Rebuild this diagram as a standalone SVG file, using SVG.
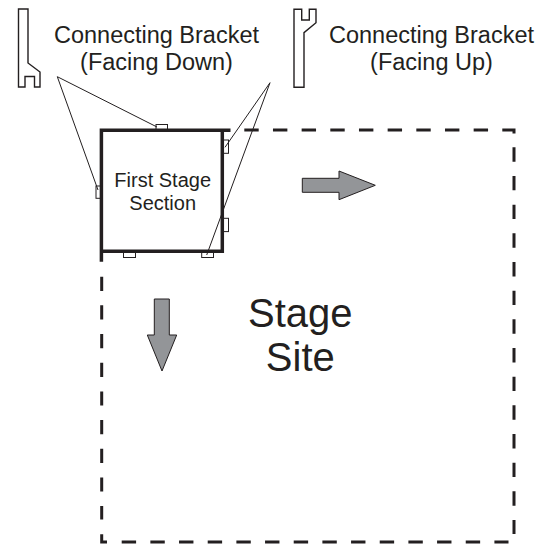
<svg xmlns="http://www.w3.org/2000/svg" width="548" height="544" viewBox="0 0 548 544">
<style>
text{font-family:"Liberation Sans",Arial,sans-serif;fill:#231f20;text-anchor:middle}
.lbl{font-size:23.5px}.sec{font-size:20px}.big{font-size:40px}
.br{fill:#fff;stroke:#231f20;stroke-width:1}
.tall{fill:#fff;stroke:#231f20;stroke-width:1.4}
.ld{fill:none;stroke:#231f20;stroke-width:1}
.ds{fill:none;stroke:#231f20;stroke-width:3}
.ar{fill:#939598;stroke:#231f20;stroke-width:1}
</style>
<rect width="548" height="544" fill="#fff"/>
<g id="site">
<path class="ds" stroke-dasharray="14.4 14.27" d="M244.3 130H502"/>
<path class="ds" d="M502.3 130H514V133.5"/>
<path class="ds" stroke-dasharray="14.4 14.27" d="M514 147.3V534"/>
<path class="ds" stroke-dasharray="14.4 14.27" d="M121.7 542H508.5"/>
<path class="ds" stroke-dasharray="14.2 14.47" d="M101.7 276.7V519.5"/>
<path class="ds" d="M101.7 534.3V542H107"/>
</g>
<g id="small-brackets">
<rect class="br" x="156" y="124.5" width="11.5" height="5"/>
<rect class="br" x="96" y="186" width="4.5" height="12.3"/>
<rect class="br" x="223.5" y="140" width="5" height="13.3"/>
<rect class="br" x="223.5" y="218.3" width="5" height="13.3"/>
<rect class="br" x="123.5" y="252.5" width="12" height="5"/>
<rect class="br" x="201.7" y="252.5" width="11.8" height="5"/>
</g>
<g id="first-stage-section">
<path fill="none" stroke="#231f20" stroke-width="3.5" d="M230.5 130.3H222.3V251.3H101.4M101.4 130.3H222.3M101.4 128.6V261.7"/>
<text class="sec" x="162.7" y="186.7">First Stage</text>
<text class="sec" x="162.7" y="209.7">Section</text>
</g>
<g id="connectors">
<path class="ld" d="M98 190L57.3 76.7L157 127"/>
<path class="ld" d="M225 147.3L270 82.7L206.7 255"/>
</g>
<g id="bracket-down">
<path class="tall" d="M18.5 9H28V63L40 72V87H34.5V76.5H25V87H18.5Z"/>
<text class="lbl" x="156.5" y="42.7">Connecting Bracket</text>
<text class="lbl" x="156.5" y="70">(Facing Down)</text>
</g>
<g id="bracket-up">
<path class="tall" d="M294 9.3H301.7V20H309.3V9.3H316V22.7L304 32.7V87.3H294Z"/>
<text class="lbl" x="431.5" y="42.7">Connecting Bracket</text>
<text class="lbl" x="431.5" y="70">(Facing Up)</text>
</g>
<g id="arrow-right"><path class="ar" d="M302.3 178.3H339V171L375.3 185.3L339 199.7V192.3H302.3Z"/></g>
<g id="arrow-down"><path class="ar" d="M154.3 299H169.3V335H176.7L162 371L147.3 335H154.3Z"/></g>
<g id="stage-site">
<text class="big" x="300.3" y="327">Stage</text>
<text class="big" x="300.3" y="370.5">Site</text>
</g>
</svg>
